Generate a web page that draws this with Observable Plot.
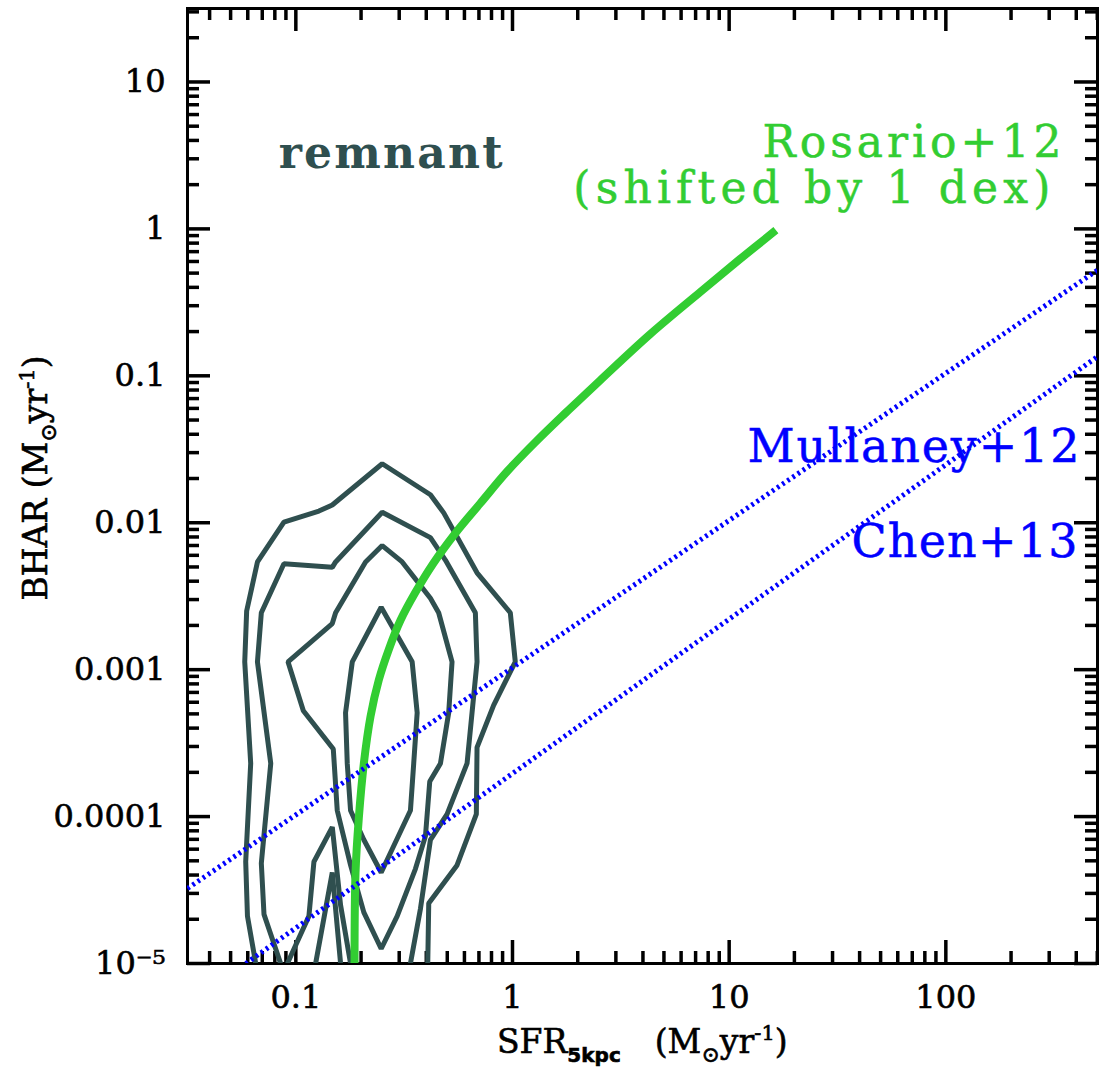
<!DOCTYPE html>
<html><head><meta charset="utf-8">
<script src="https://cdn.jsdelivr.net/npm/d3@7"></script>
<script src="https://cdn.jsdelivr.net/npm/@observablehq/plot@0.6"></script>
<style>body{margin:0;background:#fff} svg{display:block}</style>
</head><body><div id="chart"></div>
<script>
// ---- axis ticks ----
const xMajor = [0.1, 1, 10, 100];
const xMajorLabels = ["0.1", "1", "10", "100"];
const xMinor = [0.04,0.05,0.06,0.07,0.08,0.09, 0.2,0.3,0.4,0.5,0.6,0.7,0.8,0.9,
                2,3,4,5,6,7,8,9, 20,30,40,50,60,70,80,90, 200,300,400,500];
const yMajor = [1e-5, 1e-4, 1e-3, 1e-2, 0.1, 1, 10];
const yMajorLabels = ["10\u207B\u2075", "0.0001", "0.001", "0.01", "0.1", "1", "10"];
const yMinor = [2e-5,3e-5,4e-5,5e-5,6e-5,7e-5,8e-5,9e-5,
                2e-4,3e-4,4e-4,5e-4,6e-4,7e-4,8e-4,9e-4,
                2e-3,3e-3,4e-3,5e-3,6e-3,7e-3,8e-3,9e-3,
                0.02,0.03,0.04,0.05,0.06,0.07,0.08,0.09,
                0.2,0.3,0.4,0.5,0.6,0.7,0.8,0.9,
                2,3,4,5,6,7,8,9, 20,30];

// ---- "remnant" contours (SFR, BHAR) ----
const c1SFR  = [0.0653,0.0598,0.0587,0.0619,0.0581,0.0593,0.0665,0.0881,0.1278,0.1473,0.2504,0.418,0.4815,0.686,0.977,1.03,0.818,0.686,0.681,0.5548,0.4106,0.4063];
const c1BHAR = [1e-5,2.10e-5,4.93e-5,2.30e-4,1.13e-3,2.51e-3,5.41e-3,0.0101,0.0120,0.0132,0.0252,0.0155,0.01167,4.56e-3,2.44e-3,1.13e-3,5.71e-4,2.96e-4,1.04e-4,4.67e-5,2.57e-5,1e-5];
const c2SFR  = [0.0851,0.0713,0.0693,0.0766,0.0665,0.0693,0.0881,0.1473,0.1526,0.2504,0.418,0.490,0.674,0.686,0.617,0.499,0.418,0.376,0.338];
const c2BHAR = [1e-5,2.16e-5,4.81e-5,2.30e-4,1.13e-3,2.44e-3,5.26e-3,4.97e-3,5.41e-3,0.0118,7.92e-3,5.57e-3,2.44e-3,1.13e-3,2.30e-4,1.04e-4,6.95e-5,2.36e-5,1e-5];
const c3SFR  = [0.2504,0.3096,0.418,0.4563,0.526,0.5076,0.465,0.415,0.3965,0.3565,0.2936,0.2477,0.206,0.1789,0.1553,0.1489,0.1083,0.0920,0.1473,0.1526,0.2098];
const c3BHAR = [6.99e-3,5.41e-3,3.06e-3,2.44e-3,1.13e-3,5.09e-4,2.30e-4,1.73e-4,7.36e-5,4.41e-5,2.10e-5,1.26e-5,2.23e-5,4.67e-5,1.10e-4,2.88e-4,5.25e-4,1.13e-3,2.06e-3,2.44e-3,5.41e-3];
const c4SFR  = [0.2477,0.3442,0.3631,0.350,0.338,0.2477,0.206,0.1789,0.1727,0.1696,0.1822];
const c4BHAR = [2.66e-3,1.13e-3,5.09e-4,2.30e-4,1.10e-4,4.16e-5,6.95e-5,1.10e-4,2.30e-4,5.09e-4,1.13e-3];
const c5SFR  = [0.1234,0.1473,0.1609];
const c5BHAR = [1e-5,4.16e-5,1e-5];
const c6SFR  = [0.0914,0.1149,0.1212,0.1473,0.1609,0.1789];
const c6BHAR = [1e-5,2.10e-5,4.93e-5,8.48e-5,2.49e-5,1e-5];

// ---- Rosario+12 (shifted by 1 dex) ----
const rosSFR  = [0.1866,0.1886,0.1953,0.206,0.2212,0.2415,0.2677,0.3041,0.3565,0.4315,0.5449,0.7105,0.9463,1.274,1.751,2.539,4.315,7.335,11.21,16.43];
const rosBHAR = [1e-5,4.17e-5,9.77e-5,2.30e-4,4.81e-4,8.50e-4,1.354e-3,2.168e-3,3.36e-3,5.30e-3,8.48e-3,0.01356,0.02239,0.03529,0.0556,0.0932,0.1918,0.3705,0.622,0.979];

// ---- Mullaney+12 and Chen+13 relations (end points) ----
const mulSFR  = [0.0316, 501];
const mulBHAR = [3.24e-5, 0.524];
const chenSFR  = [0.0588, 501];
const chenBHAR = [1e-5, 0.135];

// ---- build tables ----
const zip = (xs, ys, id) => xs.map((x, i) => ({sfr: x, bhar: ys[i], id}));
const openContours = [...zip(c1SFR, c1BHAR, "c1"), ...zip(c2SFR, c2BHAR, "c2"),
                      ...zip(c5SFR, c5BHAR, "c5"), ...zip(c6SFR, c6BHAR, "c6")];
const closedContours = [...zip(c3SFR, c3BHAR, "c3"), ...zip(c4SFR, c4BHAR, "c4")];
const rosario = zip(rosSFR, rosBHAR, "ros");
const relations = [...zip(mulSFR, mulBHAR, "mul"), ...zip(chenSFR, chenBHAR, "chen")];

const W = 1099, H = 1069, mL = 187, mR = 2, mT = 8, mB = 106;
const PW = W - mL - mR, PH = H - mT - mB;
const MAJ = 23, MIN = 12;
const contourColor = "#2f4f4f", green = "#32cd32", blue = "#0000ff";

const chart = Plot.plot({
  width: W, height: H,
  marginLeft: mL, marginRight: mR, marginTop: mT, marginBottom: mB,
  style: {fontFamily: "DejaVu Serif", background: "white"},
  x: {type: "log", domain: [Math.pow(10, -1.5), Math.pow(10, 2.7)]},
  y: {type: "log", domain: [1e-5, Math.pow(10, 1.5)]},
  marks: [
    // inward tick marks on all four sides
    Plot.ruleX(xMajor, {x: d => d, insetTop: PH - MAJ, stroke: "black", strokeWidth: 3.5}),
    Plot.ruleX(xMajor, {x: d => d, insetBottom: PH - MAJ, stroke: "black", strokeWidth: 3.5}),
    Plot.ruleX(xMinor, {x: d => d, insetTop: PH - MIN, stroke: "black", strokeWidth: 3.5}),
    Plot.ruleX(xMinor, {x: d => d, insetBottom: PH - MIN, stroke: "black", strokeWidth: 3.5}),
    Plot.ruleY(yMajor, {y: d => d, insetRight: PW - MAJ, stroke: "black", strokeWidth: 3.5}),
    Plot.ruleY(yMajor, {y: d => d, insetLeft: PW - MAJ, stroke: "black", strokeWidth: 3.5}),
    Plot.ruleY(yMinor, {y: d => d, insetRight: PW - MIN, stroke: "black", strokeWidth: 3.5}),
    Plot.ruleY(yMinor, {y: d => d, insetLeft: PW - MIN, stroke: "black", strokeWidth: 3.5}),
    Plot.frame({stroke: "black", strokeWidth: 3}),
    Plot.axisX(xMajor, {anchor: "bottom", tickSize: 0, tickPadding: 22, fontSize: 32, label: null,
      tickFormat: d => xMajorLabels[xMajor.indexOf(d)]}),
    Plot.axisY(yMajor, {anchor: "left", tickSize: 0, tickPadding: 22, fontSize: 32, label: null,
      tickFormat: d => yMajorLabels[yMajor.indexOf(d)]}),
    // data
    Plot.line(openContours, {x: "sfr", y: "bhar", z: "id", stroke: contourColor, strokeWidth: 5, strokeLinejoin: "miter", strokeLinecap: "butt", clip: true}),
    Plot.line(closedContours, {x: "sfr", y: "bhar", z: "id", curve: "linear-closed", stroke: contourColor, strokeWidth: 5, strokeLinejoin: "miter", clip: true}),
    Plot.line(rosario, {x: "sfr", y: "bhar", curve: "catmull-rom", stroke: green, strokeWidth: 8, strokeLinecap: "butt", clip: true}),
    Plot.line(relations, {x: "sfr", y: "bhar", z: "id", stroke: blue, strokeWidth: 5, strokeDasharray: "2.6,3.6", strokeLinecap: "butt", clip: true}),
    // annotations
    Plot.text(["remnant"], {x: 0.0833, y: 3.22, text: d => d, textAnchor: "start", fontSize: 44, fontWeight: "bold", fill: contourColor}),
    Plot.text(["Rosario+12"], {x: 341.8, y: 3.83, text: d => d, textAnchor: "end", fontSize: 44, fill: green}),
    Plot.text(["(shifted by 1 dex)"], {x: 303.7, y: 1.865, text: d => d, textAnchor: "end", fontSize: 44, fill: green}),
    Plot.text(["Mullaney+12"], {x: 413.6, y: 0.03248, text: d => d, textAnchor: "end", fontSize: 46, fill: blue}),
    Plot.text(["Chen+13"], {x: 404.9, y: 0.00733, text: d => d, textAnchor: "end", fontSize: 46, fill: blue})
  ]
});

const svg = d3.select(chart);
// fit annotation widths to the reference
const widths = {"remnant": 224, "Rosario+12": 299, "(shifted by 1 dex)": 477, "Mullaney+12": 332, "Chen+13": 226};
const colors = {"Rosario+12": green, "(shifted by 1 dex)": green, "Mullaney+12": blue, "Chen+13": blue};
svg.selectAll("text").each(function() {
  const t = this.textContent;
  if (widths[t]) d3.select(this).attr("textLength", widths[t]).attr("lengthAdjust", "spacing");
  if (colors[t]) d3.select(this).attr("stroke", colors[t]).attr("stroke-width", 0.5);
});
// slightly heavier tick labels
svg.selectAll("[aria-label^='x-axis tick label'] text, [aria-label^='y-axis tick label'] text")
  .attr("stroke", "black").attr("stroke-width", 0.6);

// axis titles with sub/superscripts
const xt = svg.append("text").attr("x", 497).attr("y", 1053).attr("text-anchor", "start")
  .attr("font-family", "DejaVu Serif").attr("font-size", 33).attr("fill", "black")
  .attr("stroke", "black").attr("stroke-width", 0.6);
xt.append("tspan").text("SFR");
xt.append("tspan").attr("font-size", 20).attr("font-weight", "bold").attr("font-family", "DejaVu Sans").attr("dy", 9).text("5kpc");
xt.append("tspan").attr("dy", -9).attr("dx", 34).text("(M");
xt.append("tspan").attr("font-size", 22).attr("dy", 9).text("\u2299");
xt.append("tspan").attr("dy", -9).text("yr");
xt.append("tspan").attr("font-size", 21).attr("dy", -13).text("-1");
xt.append("tspan").attr("dy", 13).text(")");

const yt = svg.append("text").attr("transform", "translate(47,478) rotate(-90)")
  .attr("text-anchor", "middle")
  .attr("font-family", "DejaVu Serif").attr("font-size", 33).attr("fill", "black")
  .attr("stroke", "black").attr("stroke-width", 0.6);
yt.append("tspan").text("BHAR (M");
yt.append("tspan").attr("font-size", 22).attr("dy", 9).text("\u2299");
yt.append("tspan").attr("dy", -9).text("yr");
yt.append("tspan").attr("font-size", 21).attr("dy", -13).text("-1");
yt.append("tspan").attr("dy", 13).text(")");

document.getElementById("chart").appendChild(chart);
</script>
</body></html>
